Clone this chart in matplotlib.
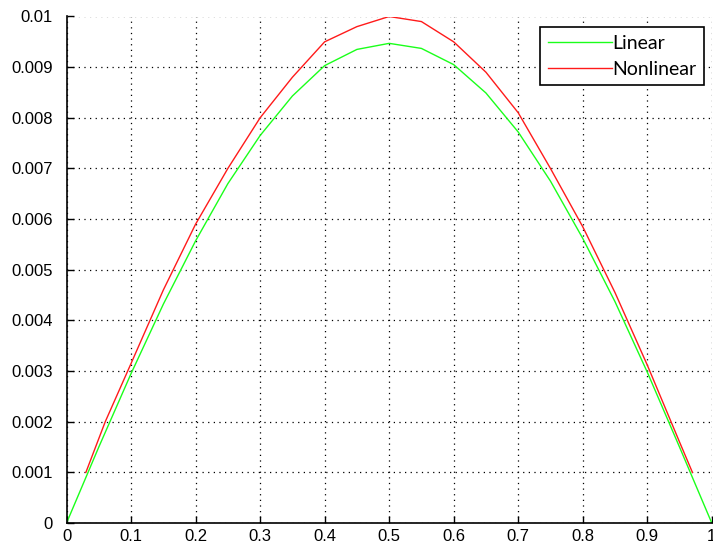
import numpy as np
import matplotlib
matplotlib.use("Agg")
import matplotlib.pyplot as plt

# values
x_lin = [0, 0.05, 0.1, 0.15, 0.2, 0.25, 0.3, 0.35, 0.4, 0.45, 0.5,
         0.55, 0.6, 0.65, 0.7, 0.75, 0.8, 0.85, 0.9, 0.95, 1.0]
y_lin = [0, 0.00150, 0.00295, 0.00432, 0.00557, 0.00670, 0.00765, 0.00843,
         0.00903, 0.00935, 0.00947, 0.00937, 0.00905, 0.00849, 0.00772,
         0.00675, 0.00562, 0.00437, 0.00298, 0.00150, 0]

x_nl = [0.03, 0.06, 0.1, 0.15, 0.2, 0.25, 0.3, 0.35, 0.4, 0.45, 0.5,
        0.55, 0.6, 0.65, 0.7, 0.75, 0.8, 0.85, 0.9, 0.95, 0.97]
y_nl = [0.001, 0.002, 0.00315, 0.0046, 0.0059, 0.0070, 0.0080, 0.0088,
        0.0095, 0.0098, 0.0100, 0.0099, 0.0095, 0.0089, 0.0081, 0.0070,
        0.00585, 0.00455, 0.00312, 0.00160, 0.001]

xticks = np.round(np.arange(0, 1.01, 0.1), 1)
yticks = np.round(np.arange(0, 0.0101, 0.001), 3)
xtick_labels = ["0", "0.1", "0.2", "0.3", "0.4", "0.5", "0.6", "0.7", "0.8", "0.9", "1"]
ytick_labels = ["0", "0.001", "0.002", "0.003", "0.004", "0.005",
                "0.006", "0.007", "0.008", "0.009", "0.01"]

plt.rcParams['font.family'] = ['Liberation Sans', 'DejaVu Sans']

fig = plt.figure(figsize=(7.13, 5.5), dpi=100)
ax = fig.add_axes([0.0933, 0.049, 0.905, 0.921])

ax.plot(x_lin, y_lin, color=(0.1, 1.0, 0.1), lw=1.0, label="Linear")
ax.plot(x_nl, y_nl, color=(1.0, 0.1, 0.1), lw=1.0, label="Nonlinear")

ax.set_xlim(0, 1)
ax.set_ylim(0, 0.01)
ax.set_xticks(xticks)
ax.set_xticklabels(xtick_labels)
ax.set_yticks(yticks)
ax.set_yticklabels(ytick_labels)
ax.tick_params(direction="in", length=5, width=1, labelsize=12, colors="black")
ax.tick_params(axis="y", pad=10)
ax.tick_params(axis="x", pad=4)

ax.grid(True, color="black", linestyle=(0, (1, 3.5)), linewidth=0.9)
ax.spines["top"].set_visible(False)
ax.spines["right"].set_visible(False)
ax.spines["left"].set_linewidth(1.2)
ax.spines["bottom"].set_linewidth(1.2)

leg = ax.legend(loc="upper right", bbox_to_anchor=(0.988, 0.979),
                prop={"family": ["Lato", "DejaVu Sans"], "size": 14},
                handlelength=3.3, handletextpad=0.0, borderpad=0.4,
                labelspacing=0.45, fancybox=False, framealpha=1,
                borderaxespad=0)
leg.get_frame().set_edgecolor("black")
leg.get_frame().set_linewidth(1.2)

fig.savefig("out.png", dpi=100)
